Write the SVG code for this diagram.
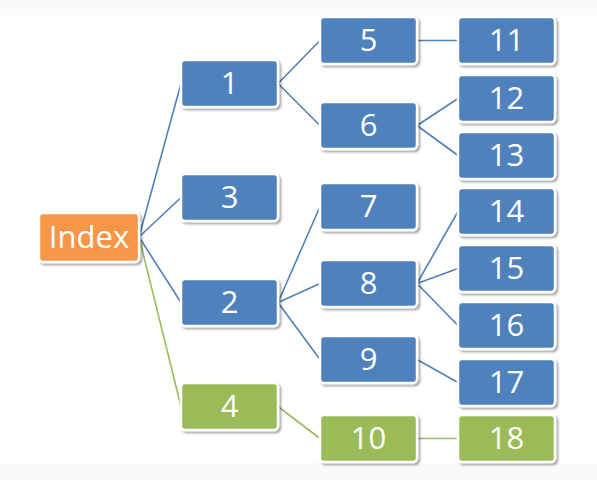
<svg xmlns="http://www.w3.org/2000/svg" width="597" height="480" viewBox="0 0 597 480">
<defs>
<filter id="sh" x="-10%" y="-10%" width="130%" height="140%">
<feDropShadow dx="2" dy="2" stdDeviation="1.2" flood-color="#000" flood-opacity="0.35"/>
</filter>
<style>
.n rect{stroke:#fff;stroke-width:2.5;filter:url(#sh)}
.b rect{fill:#4f81bd}
.g rect{fill:#9bbb59}
.o rect{fill:#f79646}
.n text{fill:#fff;font-family:"Open Sans","Noto Sans",sans-serif;font-size:31px;text-anchor:middle}
.cb{stroke:#4f81bd;stroke-width:1.6;fill:none}
.cg{stroke:#9bbb59;stroke-width:1.6;fill:none}
</style>
</defs>
<rect x="0" y="0" width="597" height="480" fill="#fff"/>
<rect x="0" y="0" width="597" height="15" fill="#fbf9fa"/>
<rect x="0" y="463" width="597" height="17" fill="#fbf9fa"/>
<g id="connectors">
<path class="cb" d="M139 237L181 83.5M139 237L181 197.5M139 237L181 302.5"/>
<path class="cg" d="M139 237L181 406.5"/>
<path class="cb" d="M278 83.5L320 40.5M278 83.5L320 125.5"/>
<path class="cb" d="M278 302.5L320 206.5M278 302.5L320 283.5M278 302.5L320 359.5"/>
<path class="cg" d="M278 406.5L320 438.5"/>
<path class="cb" d="M417 40.5L458 40.5M417 125.5L458 98.5M417 125.5L458 155.5"/>
<path class="cb" d="M417 283.5L458 211.5M417 283.5L458 268.5M417 283.5L458 325.5M417 359.5L458 382.5"/>
<path class="cg" d="M417 438.5L458 438.5"/>
</g>
<g id="node-index" class="n o"><rect x="39" y="213" width="100" height="49" rx="4"/><text x="89" y="248">Index</text></g>
<g id="node-1" class="n b"><rect x="181" y="60" width="97" height="47" rx="4"/><text x="229.5" y="94">1</text></g>
<g id="node-3" class="n b"><rect x="181" y="174" width="97" height="47" rx="4"/><text x="229.5" y="208">3</text></g>
<g id="node-2" class="n b"><rect x="181" y="279" width="97" height="47" rx="4"/><text x="229.5" y="313">2</text></g>
<g id="node-4" class="n g"><rect x="181" y="383" width="97" height="47" rx="4"/><text x="229.5" y="417">4</text></g>
<g id="node-5" class="n b"><rect x="320" y="17" width="97" height="47" rx="4"/><text x="368.5" y="51">5</text></g>
<g id="node-6" class="n b"><rect x="320" y="102" width="97" height="47" rx="4"/><text x="368.5" y="136">6</text></g>
<g id="node-7" class="n b"><rect x="320" y="183" width="97" height="47" rx="4"/><text x="368.5" y="217">7</text></g>
<g id="node-8" class="n b"><rect x="320" y="260" width="97" height="47" rx="4"/><text x="368.5" y="294">8</text></g>
<g id="node-9" class="n b"><rect x="320" y="336" width="97" height="47" rx="4"/><text x="368.5" y="370">9</text></g>
<g id="node-10" class="n g"><rect x="320" y="415" width="97" height="47" rx="4"/><text x="368.5" y="449">10</text></g>
<g id="node-11" class="n b"><rect x="458" y="17" width="97" height="47" rx="4"/><text x="506.5" y="51">11</text></g>
<g id="node-12" class="n b"><rect x="458" y="75" width="97" height="47" rx="4"/><text x="506.5" y="109">12</text></g>
<g id="node-13" class="n b"><rect x="458" y="132" width="97" height="47" rx="4"/><text x="506.5" y="166">13</text></g>
<g id="node-14" class="n b"><rect x="458" y="188" width="97" height="47" rx="4"/><text x="506.5" y="222">14</text></g>
<g id="node-15" class="n b"><rect x="458" y="245" width="97" height="47" rx="4"/><text x="506.5" y="279">15</text></g>
<g id="node-16" class="n b"><rect x="458" y="302" width="97" height="47" rx="4"/><text x="506.5" y="336">16</text></g>
<g id="node-17" class="n b"><rect x="458" y="359" width="97" height="47" rx="4"/><text x="506.5" y="393">17</text></g>
<g id="node-18" class="n g"><rect x="458" y="415" width="97" height="47" rx="4"/><text x="506.5" y="449">18</text></g>
</svg>
